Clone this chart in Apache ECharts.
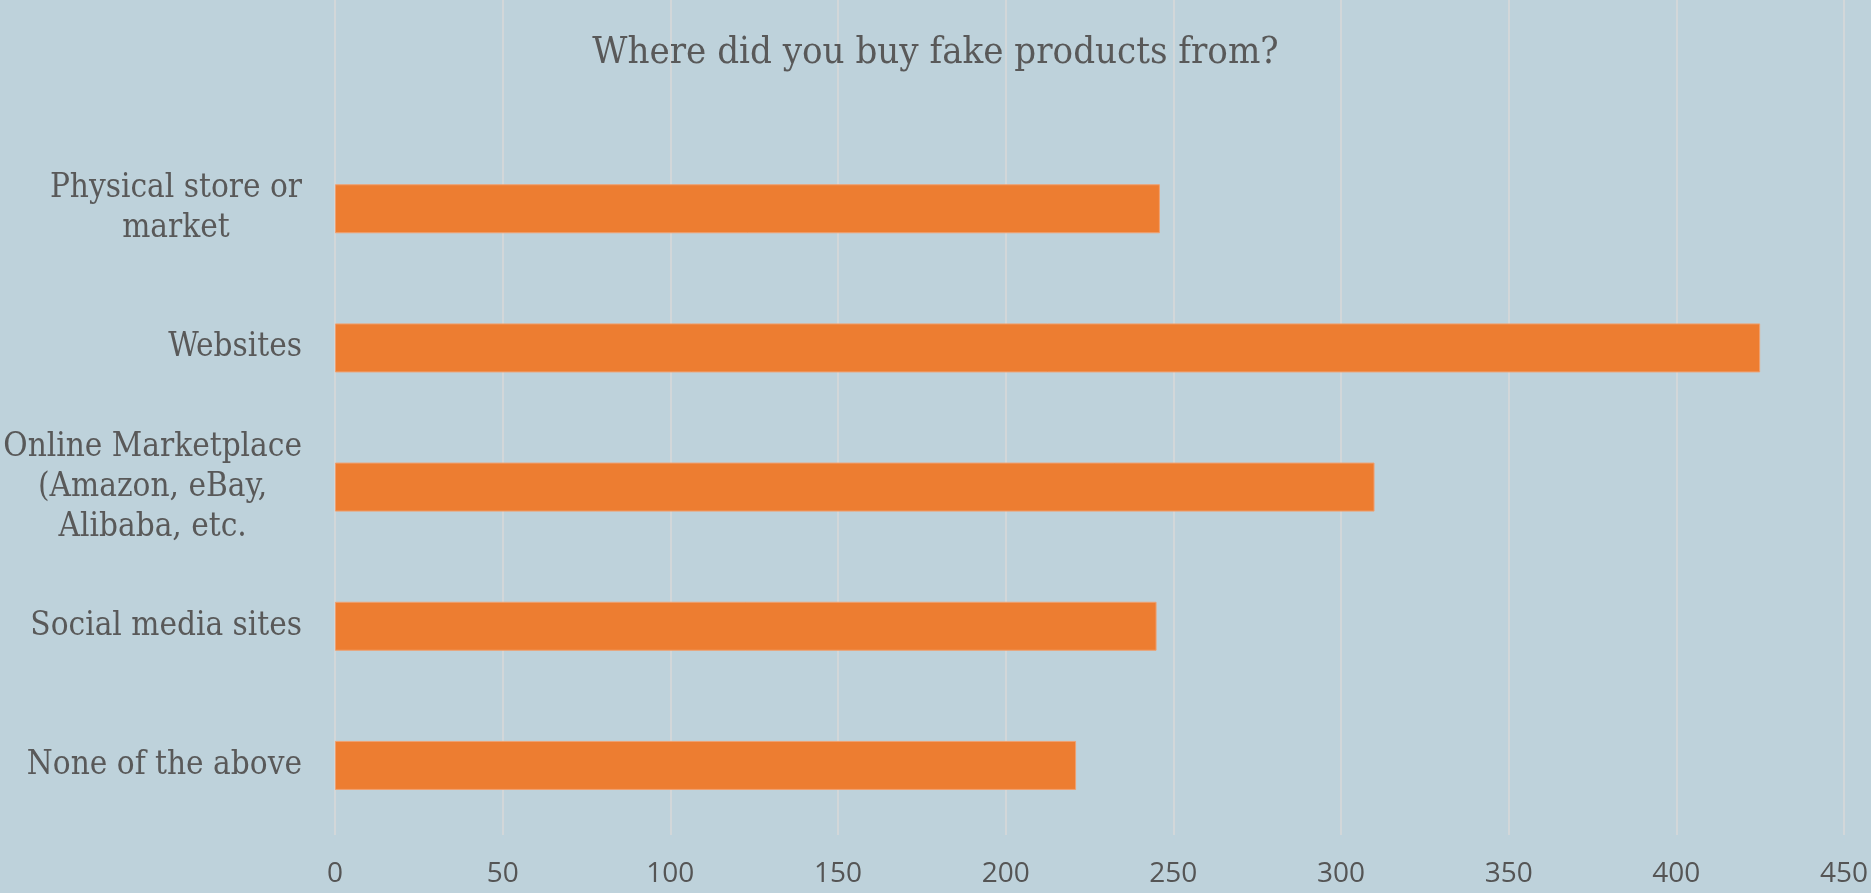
<!DOCTYPE html>
<html>
<head>
<meta charset="utf-8">
<script src="https://cdn.jsdelivr.net/npm/echarts@6/dist/echarts.min.js"></script>
<style>
html,body{margin:0;padding:0;background:#BED2DB;}
#chart{width:1871px;height:893px;}
</style>
</head>
<body>
<div id="chart"></div>
<script>
const titleText = 'Where did you buy fake products from?';
const categories = [
  'Physical store or\nmarket',
  'Websites',
  'Online Marketplace\n(Amazon, eBay,\nAlibaba, etc.',
  'Social media sites',
  'None of the above'
];
const values = [246, 425, 310, 245, 221];
const xTicks = { min: 0, max: 450, interval: 50 };

const serif = '"DejaVu Serif Condensed", "DejaVu Serif", serif';
const textColor = '#595959';

const chart = echarts.init(document.getElementById('chart'), null, { renderer: 'canvas' });
chart.setOption({
  backgroundColor: '#BED2DB',
  animation: false,
  title: {
    text: titleText,
    left: 'center',
    top: 29,
    textStyle: { fontFamily: serif, fontWeight: 'normal', fontSize: 38, color: textColor }
  },
  grid: { left: 335, right: 24, top: 0, bottom: 58, containLabel: false },
  xAxis: {
    type: 'value',
    min: xTicks.min, max: xTicks.max, interval: xTicks.interval,
    axisLine: { show: false },
    axisTick: { show: false },
    axisLabel: { color: '#555555', fontFamily: '"Open Sans", sans-serif', fontSize: 28, margin: 25 },
    splitLine: { show: true, lineStyle: { color: '#D9D9D9', width: 1.5 } }
  },
  yAxis: {
    type: 'category',
    inverse: true,
    data: [''].concat(categories),
    axisLine: { show: false },
    axisTick: { show: false },
    axisLabel: {
      margin: 33,
      align: 'right',
      formatter: v => v ? v.split('\n').map(l => '{c|' + l + '}').join('\n') : '',
      rich: {
        c: { align: 'center', fontFamily: serif, fontSize: 33, color: textColor, lineHeight: 40 }
      }
    }
  },
  series: [{
    type: 'bar',
    data: ['-'].concat(values),
    barWidth: 49,
    itemStyle: { color: '#ED7D31', borderColor: '#F0A070', borderWidth: 1 }
  }]
});
</script>
</body>
</html>
